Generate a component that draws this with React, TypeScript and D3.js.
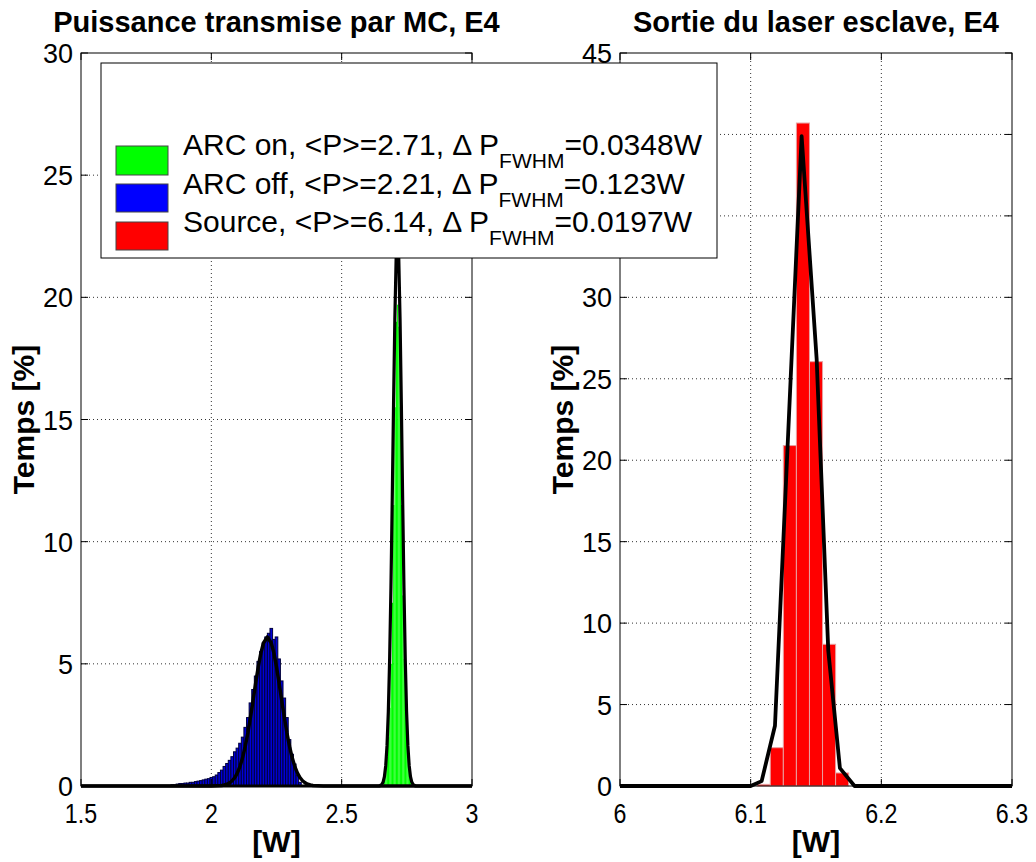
import React from 'react';
import * as d3 from 'd3';

const W = 1036;
const H = 862;

const leftTitle = 'Puissance transmise par MC, E4';
const rightTitle = 'Sortie du laser esclave, E4';
const xLabel = '[W]';
const yLabel = 'Temps [%]';

const leftXTicks = [1.5, 2, 2.5, 3];
const leftXTickLabels = ['1.5', '2', '2.5', '3'];
const leftYTicks = [0, 5, 10, 15, 20, 25, 30];
const rightXTicks = [6, 6.1, 6.2, 6.3];
const rightXTickLabels = ['6', '6.1', '6.2', '6.3'];
const rightYTicks = [0, 5, 10, 15, 20, 25, 30, 35, 40, 45];

// ARC off histogram (blue)
const blueBinWidth = 0.01;
const blueX = [1.85, 1.86, 1.87, 1.88, 1.89, 1.9, 1.91, 1.92, 1.93, 1.94, 1.95, 1.96, 1.97, 1.98, 1.99, 2.0, 2.01, 2.02, 2.03, 2.04, 2.05, 2.06, 2.07, 2.08, 2.09, 2.1, 2.11, 2.12, 2.13, 2.14, 2.15, 2.16, 2.17, 2.18, 2.19, 2.2, 2.21, 2.22, 2.23, 2.24, 2.25, 2.26, 2.27, 2.28, 2.29, 2.3, 2.31, 2.32, 2.33, 2.34];
const blueY = [0.05, 0.05, 0.08, 0.1, 0.1, 0.12, 0.12, 0.15, 0.15, 0.18, 0.2, 0.22, 0.25, 0.28, 0.3, 0.35, 0.38, 0.45, 0.55, 0.65, 0.8, 0.92, 1.05, 1.2, 1.4, 1.55, 1.75, 2.0, 2.4, 2.8, 3.4, 3.95, 4.5, 5.1, 5.5, 5.85, 6.1, 6.25, 6.45, 6.0, 6.1, 5.2, 4.3, 3.6, 2.8, 1.9, 1.3, 0.9, 0.45, 0.15];

// ARC on histogram (green)
const greenBinWidth = 0.005;
const greenX = [2.665, 2.67, 2.675, 2.68, 2.685, 2.69, 2.695, 2.7, 2.705, 2.71, 2.715, 2.72, 2.725, 2.73, 2.735, 2.74, 2.745, 2.75, 2.755, 2.76, 2.765];
const greenY = [0.4, 0.7, 1.2, 2.0, 3.2, 5.0, 7.5, 11.5, 15.5, 19.0, 19.7, 18.8, 15.5, 11.5, 7.8, 5.2, 3.3, 2.0, 1.2, 0.7, 0.4];

// Source histogram (red)
const redBinWidth = 0.01;
const redX = [6.11, 6.12, 6.13, 6.14, 6.15, 6.16, 6.17];
const redY = [0.1, 2.35, 20.9, 40.7, 26.05, 8.7, 0.8];

// fitted curves (black)
const blueFitX = [1.5, 2.0, 2.04, 2.05, 2.06, 2.07, 2.08, 2.09, 2.1, 2.11, 2.12, 2.13, 2.14, 2.15, 2.16, 2.17, 2.18, 2.19, 2.2, 2.215, 2.23, 2.24, 2.25, 2.26, 2.27, 2.28, 2.29, 2.3, 2.31, 2.32, 2.33, 2.34, 2.35, 2.36, 2.37, 2.38, 2.39, 2.43, 3.0];
const blueFitY = [0, 0.001, 0.022, 0.041, 0.074, 0.129, 0.215, 0.347, 0.537, 0.807, 1.165, 1.62, 2.17, 2.81, 3.5, 4.21, 4.87, 5.44, 5.85, 6.1, 5.85, 5.44, 4.87, 4.21, 3.5, 2.81, 2.17, 1.62, 1.165, 0.807, 0.537, 0.347, 0.215, 0.129, 0.074, 0.041, 0.022, 0.001, 0];
const greenFitX = [1.5, 2.644, 2.654, 2.659, 2.664, 2.669, 2.674, 2.679, 2.684, 2.689, 2.694, 2.699, 2.704, 2.709, 2.714, 2.719, 2.724, 2.729, 2.734, 2.739, 2.744, 2.749, 2.754, 2.759, 2.764, 2.769, 2.774, 2.784, 3.0];
const greenFitY = [0, 0, 0.06, 0.16, 0.38, 0.83, 1.65, 3.05, 5.18, 8.1, 11.7, 15.6, 19.1, 21.6, 22.5, 21.6, 19.1, 15.6, 11.7, 8.1, 5.18, 3.05, 1.65, 0.83, 0.38, 0.16, 0.06, 0, 0];
const redFitX = [6.0, 6.1, 6.1084, 6.1186, 6.139, 6.1505, 6.1594, 6.1683, 6.1795, 6.3];
const redFitY = [0, 0, 0.3, 3.7, 39.9, 26.2, 8.3, 1.1, 0, 0];

const legendLabels = [
  ['ARC on, <P>=2.71, \u0394 P', 'FWHM', '=0.0348W'],
  ['ARC off, <P>=2.21, \u0394 P', 'FWHM', '=0.123W'],
  ['Source, <P>=6.14, \u0394 P', 'FWHM', '=0.0197W'],
];
const legendColors = ['#00ff00', '#0000ff', '#ff0000'];

const FONT = "'Liberation Sans', Arial, Helvetica, sans-serif";

const LEGEND = { x: 101, y: 63, w: 616, h: 195 };

type Bars = { xs: number[]; ys: number[]; w: number; fill: string; stroke: string; sw: number };
type Curve = { xs: number[]; ys: number[]; sw: number };

function hiddenByLegend(x: number, y: number) {
  return x > LEGEND.x && x < LEGEND.x + LEGEND.w && y > LEGEND.y + 8 && y < LEGEND.y + LEGEND.h - 8;
}

function Panel(props: {
  x0: number; x1: number; top: number; bottom: number;
  xDomain: [number, number]; yDomain: [number, number];
  xTicks: number[]; xTickLabels: string[]; yTicks: number[];
  title: string; bars: Bars[]; curves: Curve[]; yLabelX: number;
}) {
  const { x0, x1, top, bottom } = props;
  const xs = d3.scaleLinear().domain(props.xDomain).range([x0, x1]);
  const ys = d3.scaleLinear().domain(props.yDomain).range([bottom, top]);
  const line = d3.line<[number, number]>().x(d => xs(d[0])).y(d => ys(d[1]));
  const tl = 7;
  const cx = (x0 + x1) / 2;
  const cy = (top + bottom) / 2;
  return (
    <g>
      <rect x={x0} y={top} width={x1 - x0} height={bottom - top} fill="#fff" />
      {props.xTicks.slice(1, -1).map((t, i) => (
        <line key={'gx' + i} x1={xs(t)} x2={xs(t)} y1={top} y2={bottom} stroke="#333" strokeWidth={1} strokeDasharray="1,3" />
      ))}
      {props.yTicks.slice(1, -1).map((t, i) => (
        <line key={'gy' + i} x1={x0} x2={x1} y1={ys(t)} y2={ys(t)} stroke="#333" strokeWidth={1} strokeDasharray="1,3" />
      ))}
      {props.bars.map((b, bi) => (
        <g key={'b' + bi}>
          {b.xs.map((c, i) => (
            <rect key={i} x={xs(c - b.w / 2)} width={xs(c + b.w / 2) - xs(c - b.w / 2)}
              y={ys(b.ys[i])} height={ys(0) - ys(b.ys[i])}
              fill={b.fill} stroke={b.stroke} strokeWidth={b.sw} />
          ))}
        </g>
      ))}
      {props.curves.map((c, ci) => (
        <path key={'c' + ci} d={line(c.xs.map((x, i) => [x, c.ys[i]] as [number, number])) || ''}
          fill="none" stroke="#000" strokeWidth={c.sw} strokeLinejoin="round" />
      ))}
      <rect x={x0} y={top} width={x1 - x0} height={bottom - top} fill="none" stroke="#000" strokeWidth={1} />
      {props.xTicks.map((t, i) => (
        <g key={'tx' + i}>
          <line x1={xs(t)} x2={xs(t)} y1={bottom} y2={bottom - tl} stroke="#000" />
          <line x1={xs(t)} x2={xs(t)} y1={top} y2={top + tl} stroke="#000" />
          <text transform={`translate(${xs(t)},${bottom + 37}) scale(0.86,1)`} textAnchor="middle" fontFamily={FONT} fontSize={27}>{props.xTickLabels[i]}</text>
        </g>
      ))}
      {props.yTicks.map((t, i) => (
        <g key={'ty' + i}>
          <line x1={x0} x2={x0 + tl} y1={ys(t)} y2={ys(t)} stroke="#000" />
          <line x1={x1} x2={x1 - tl} y1={ys(t)} y2={ys(t)} stroke="#000" />
          {hiddenByLegend(x0 - 20, ys(t)) ? null : (
            <text x={x0 - 8} y={ys(t) + 10} textAnchor="end" fontFamily={FONT} fontSize={27}>{t}</text>
          )}
        </g>
      ))}
      <text x={cx} y={32} textAnchor="middle" fontFamily={FONT} fontWeight="bold" fontSize={29}>{props.title}</text>
      <text x={cx} y={852} textAnchor="middle" fontFamily={FONT} fontWeight="bold" fontSize={30}>{xLabel}</text>
      <text transform={`translate(${props.yLabelX},${cy}) rotate(-90)`} textAnchor="middle" fontFamily={FONT} fontWeight="bold" fontSize={30}>{yLabel}</text>
    </g>
  );
}

export default function App() {
  const top = 53;
  const bottom = 786;
  const swY = [146, 184, 222];
  const swH = [29, 28, 28];
  const baseY = [155, 193.5, 232];
  return (
    <svg width={W} height={H} style={{ position: 'absolute', left: 0, top: 0, display: 'block', background: '#fff' }}>
      <rect x={0} y={0} width={W} height={H} fill="#fff" />
      <Panel x0={81} x1={472} top={top} bottom={bottom} xDomain={[1.5, 3]} yDomain={[0, 30]}
        xTicks={leftXTicks} xTickLabels={leftXTickLabels} yTicks={leftYTicks} title={leftTitle} yLabelX={34}
        bars={[
          { xs: blueX, ys: blueY, w: blueBinWidth, fill: '#0000d8', stroke: '#00003a', sw: 1 },
          { xs: greenX, ys: greenY, w: greenBinWidth, fill: '#00ff00', stroke: 'none', sw: 0 },
        ]}
        curves={[{ xs: blueFitX, ys: blueFitY, sw: 3.5 }, { xs: greenFitX, ys: greenFitY, sw: 3.2 }]} />
      <Panel x0={620} x1={1012} top={top} bottom={bottom} xDomain={[6, 6.3]} yDomain={[0, 45]}
        xTicks={rightXTicks} xTickLabels={rightXTickLabels} yTicks={rightYTicks} title={rightTitle} yLabelX={573}
        bars={[{ xs: redX, ys: redY, w: redBinWidth, fill: '#ff0000', stroke: '#e8a0a0', sw: 1 }]}
        curves={[{ xs: redFitX, ys: redFitY, sw: 3.8 }]} />
      <g>
        <rect x={LEGEND.x} y={LEGEND.y} width={LEGEND.w} height={LEGEND.h} fill="#fff" stroke="#000" strokeWidth={1} />
        {legendLabels.map((l, i) => (
          <g key={i}>
            <rect x={116} y={swY[i]} width={52} height={swH[i]} fill={legendColors[i]} stroke="#444" strokeWidth={1} />
            <text x={183} y={baseY[i]} fontFamily={FONT} fontSize={30}>
              {l[0]}
              <tspan dy={13} fontSize={21}>{l[1]}</tspan>
              <tspan dy={-13}>{l[2]}</tspan>
            </text>
          </g>
        ))}
      </g>
    </svg>
  );
}
